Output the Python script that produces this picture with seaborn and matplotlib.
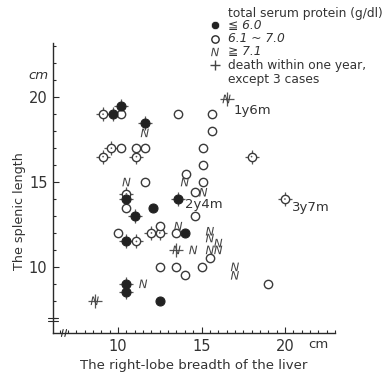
import matplotlib
matplotlib.use("Agg")
import matplotlib.pyplot as plt
import seaborn as sns
import pandas as pd
from matplotlib import font_manager
from matplotlib.ticker import MultipleLocator, FixedLocator

# ---- data (liver breadth cm, spleen length cm, death within 1 yr flag) ----
low_x = [9.7, 10.2, 11.6, 10.5, 11.0, 12.1, 13.6, 14.0, 10.5, 10.5, 10.5, 12.5]
low_y = [19.0, 19.5, 18.5, 14.0, 13.0, 13.5, 14.0, 12.0, 11.5, 9.0, 8.5, 8.0]
low_d = [1, 1, 1, 1, 1, 0, 1, 0, 1, 1, 1, 0]

mid_x = [9.1, 10.2, 13.6, 15.6, 15.6, 9.6, 10.2, 9.1, 11.1, 11.6, 11.1, 15.1,
         15.1, 15.1, 18.0, 20.0, 11.6, 10.5, 10.5, 14.1, 14.6, 14.6, 10.0, 11.1,
         12.0, 12.5, 12.5, 13.5, 15.5, 15.0, 13.5, 12.5, 14.0, 19.0]
mid_y = [19.0, 19.0, 19.0, 19.0, 18.0, 17.0, 17.0, 16.5, 17.0, 17.0, 16.5, 17.0,
         16.0, 15.0, 16.5, 14.0, 15.0, 14.3, 13.5, 15.5, 14.4, 13.0, 12.0, 11.5,
         12.0, 12.0, 12.4, 12.0, 10.5, 10.0, 10.0, 10.0, 9.5, 9.0]
mid_d = [1, 0, 0, 0, 0, 1, 0, 1, 0, 0, 1, 0,
         0, 0, 1, 1, 0, 1, 0, 0, 0, 0, 0, 1,
         1, 1, 0, 0, 0, 0, 0, 0, 0, 0]

high_x = [11.6, 16.5, 10.5, 14.0, 15.1, 13.6, 13.5, 14.5, 15.5, 15.5, 16.0,
          15.5, 16.0, 17.0, 17.0, 11.5, 8.6]
high_y = [17.9, 19.9, 15.0, 15.0, 14.4, 12.4, 11.0, 11.0, 12.1, 11.7, 11.4,
          11.0, 11.0, 10.0, 9.5, 9.0, 8.0]
high_d = [0, 1, 0, 0, 0, 0, 1, 0, 0, 0, 0,
          0, 0, 0, 0, 0, 1]

notes = ["1y6m", "2y4m", "3y7m"]
note_x = [16.5, 13.6, 20.0]
note_y = [19.9, 14.0, 14.0]

legend_lines = ["total serum protein (g/dl)", "\u2266 6.0", "6.1 ~ 7.0",
                "\u2267 7.1", "death within one year,", "except 3 cases"]

df = pd.concat([
    pd.DataFrame({"x": low_x, "y": low_y, "d": low_d, "g": "low"}),
    pd.DataFrame({"x": mid_x, "y": mid_y, "d": mid_d, "g": "mid"}),
    pd.DataFrame({"x": high_x, "y": high_y, "d": high_d, "g": "high"}),
], ignore_index=True)

sns.set_style("ticks")
names = {f.name for f in font_manager.fontManager.ttflist}
narrow = "Liberation Sans Narrow" in names
fam = (["Liberation Sans Narrow"] if narrow else []) + ["DejaVu Sans"]
plt.rcParams["font.family"] = fam
k = 1.12 if narrow else 1.0   # narrow face can be a bit larger

fig = plt.figure(figsize=(3.84, 3.76), dpi=100)
ax = fig.add_axes([53/384, 43/376, 282/384, 290/376])
ink = "#2a2a2a"
txt = "#333333"

# death crosses first (under markers)
sns.scatterplot(data=df[df.d == 1], x="x", y="y", marker="+", s=95,
                color="#555555", linewidth=0.9, ax=ax, legend=False, zorder=2)
sns.scatterplot(data=df[df.g == "mid"], x="x", y="y", marker="o", s=36,
                facecolor="white", edgecolor="#3a3a3a", linewidth=1.0, ax=ax,
                legend=False, zorder=3)
sns.scatterplot(data=df[df.g == "low"], x="x", y="y", marker="o", s=42,
                color="#222222", edgecolor="#222222", linewidth=0.8, ax=ax,
                legend=False, zorder=4)
sns.scatterplot(data=df[df.g == "high"], x="x", y="y", marker="$N$", s=38,
                color="#444444", edgecolor="none", linewidth=0, ax=ax,
                legend=False, zorder=4)
sns.scatterplot(data=df[(df.d == 1) & (df.g == "mid")], x="x", y="y",
                marker=".", s=6, color="#555555", edgecolor="none",
                ax=ax, legend=False, zorder=5)

note_off = [(5, -8), (5, -4), (5, -6)]
for t, xx, yy, off in zip(notes, note_x, note_y, note_off):
    ax.annotate(t, (xx, yy), xytext=off, textcoords="offset points",
                fontsize=9.5 * k, color=txt, va="center", ha="left")

ax.set_xlim(6.1, 23.0)
ax.set_ylim(6.1, 23.2)
ax.xaxis.set_major_locator(FixedLocator([10, 15, 20]))
ax.xaxis.set_minor_locator(MultipleLocator(0.5))
ax.yaxis.set_major_locator(FixedLocator([10, 15, 20]))
ax.yaxis.set_minor_locator(MultipleLocator(1))
ax.tick_params(which="both", direction="in", color=ink, width=0.8)
ax.tick_params(which="major", length=4, labelsize=10.5 * k, labelcolor=txt, pad=4)
ax.tick_params(which="minor", length=2.5)
sns.despine(ax=ax)
for sp in ("left", "bottom"):
    ax.spines[sp].set_color(ink)
    ax.spines[sp].set_linewidth(1.0)

ax.set_xlabel("The right-lobe breadth of the liver", fontsize=9.5 * k,
              color=txt, labelpad=4)
ax.set_ylabel("The splenic length", fontsize=9.2 * k, color=txt)
ax.yaxis.set_label_coords(-0.095, 0.42)
ax.text(22.0, 5.41, "cm", fontsize=9.5 * k, color=txt, ha="center",
        va="center", clip_on=False)
ax.text(5.85, 21.3, "cm", fontsize=9.5 * k, color=txt, ha="right",
        va="center", style="italic", clip_on=False)

# axis break marks
tr = ax.transAxes
for dy in (0.0, 0.012):
    ax.plot([-0.018, 0.018], [0.04 + dy, 0.04 + dy], transform=tr, color=ink,
            lw=0.8, clip_on=False)
for dx in (0.0, 0.012):
    ax.plot([0.03 + dx, 0.036 + dx], [-0.012, 0.012], transform=tr, color=ink,
            lw=0.8, clip_on=False)

# legend block
mx, tx = 215 / 384, 228 / 384
ty = [1 - v / 376 for v in (13, 25, 39, 52, 65, 79)]
for i, line in enumerate(legend_lines):
    fig.text(tx, ty[i], line, fontsize=8.8 * k, color=txt, va="center",
             style="italic" if i in (1, 2, 3) else "normal")
fax = fig.add_axes([0, 0, 1, 1], facecolor="none")
fax.set_xlim(0, 1)
fax.set_ylim(0, 1)
fax.axis("off")
leg = pd.DataFrame({"x": [mx] * 4, "y": ty[1:5],
                    "k": ["low", "mid", "high", "death"]})
sns.scatterplot(data=leg[leg.k == "low"], x="x", y="y", marker="o", s=36,
                color="#222222", ax=fax, legend=False)
sns.scatterplot(data=leg[leg.k == "mid"], x="x", y="y", marker="o", s=28,
                facecolor="white", edgecolor=ink, linewidth=1.0, ax=fax, legend=False)
sns.scatterplot(data=leg[leg.k == "high"], x="x", y="y", marker="$N$", s=36,
                color="#444444", edgecolor="none", ax=fax, legend=False)
sns.scatterplot(data=leg[leg.k == "death"], x="x", y="y", marker="+", s=55,
                color="#444444", linewidth=1.0, ax=fax, legend=False)
fax.set_xlabel("")
fax.set_ylabel("")

fig.savefig("out.png", dpi=100, facecolor="white")
